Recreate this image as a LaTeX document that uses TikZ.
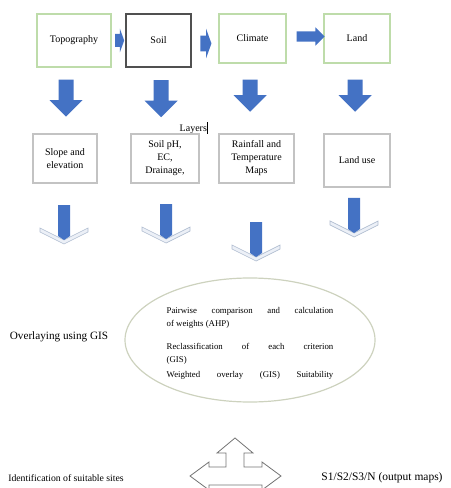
\documentclass[tikz,border=0pt]{standalone}
\usepackage{fontspec}
\setmainfont{Liberation Serif}
\usetikzlibrary{shapes.arrows,shapes.geometric,calc}

\definecolor{arrowblue}{RGB}{68,114,196}
\definecolor{boxgreen}{RGB}{190,220,170}
\definecolor{boxgray}{RGB}{195,195,195}
\definecolor{boxdark}{RGB}{80,80,80}
\definecolor{chevline}{RGB}{175,188,208}
\definecolor{chevfill}{RGB}{236,240,247}
\definecolor{ellline}{RGB}{205,210,190}

\tikzset{every picture/.style={line width=0.75pt}}
\tikzset{
	layerbox/.style={draw=boxgreen, line width=0.9pt, inner sep=1pt, align=center, font=\fontsize{7.5}{9.75}\selectfont},
	mapbox/.style={draw=boxgray, line width=0.9pt, inner sep=1pt, align=center, font=\fontsize{7.5}{9.75}\selectfont},
	blockdown/.style={single arrow, fill=arrowblue, draw=none, inner xsep=5.25pt, inner ysep=0pt, shape border rotate=270,
		minimum width=0pt, minimum height=27.75pt, single arrow head extend=6.75pt},
	blockright/.style={single arrow, fill=arrowblue, draw=none, inner xsep=0pt, minimum width=0pt, single arrow tip angle=140},
	plaintext/.style={inner sep=0.75pt, font=\fontsize{7.5}{9.75}\selectfont},
	chevarrow/.pic={
		\draw [draw=chevline, fill=chevfill, line width=0.5pt] (-24,12) -- (0,0) -- (24,12) -- (24,8) -- (0,-4) -- (-24,8) -- cycle ;
		\fill [arrowblue] (-6,35) -- (6,35) -- (6,4) -- (0,0) -- (-6,4) -- cycle ;
	}
}

\begin{document}
\begin{tikzpicture}[x=0.75pt,y=0.75pt,yscale=-1,xscale=1]
	\useasboundingbox (0,0) rectangle (450,488);
	
	%Shape: Rectangle - first row
	\node [layerbox, minimum width=55.5pt, minimum height=39.75pt] (topo) at (74,40.5) {Topography};
	\node [layerbox, draw=boxdark, line width=1.1pt, minimum width=48.75pt, minimum height=39.75pt] (soil) at (158.5,40.5) {Soil};
	\node [layerbox, minimum width=50.25pt, minimum height=36.75pt] (climate) at (252.5,38.5) {Climate};
	\node [layerbox, minimum width=49.5pt, minimum height=36.75pt] (land) at (357,38.5) {Land};
	
	%Right Arrows between the boxes
	\node [blockright, inner ysep=4.5pt, minimum height=6.75pt, single arrow head extend=4.1pt] (topo2soil) at (118.5,40.5) {};
	\node [blockright, inner ysep=5.6pt, minimum height=8.25pt, single arrow head extend=5.25pt] (soil2clim) at (204.5,43.5) {};
	\node [blockright, single arrow tip angle=90, inner ysep=3.4pt, minimum height=21pt, single arrow head extend=3pt] (clim2land) at (308,36.5) {};
	
	%Down Arrows
	\node [blockdown] (topodown) at (66,94.5) {};
	\node [blockdown] (soildown) at (161,95) {};
	\node [blockdown, minimum height=24pt] (climdown) at (250,92) {};
	\node [blockdown, minimum height=24pt] (landdown) at (355,92) {};
	
	% Text Node
	\node [plaintext] (layers) at (194,128) {Layers\rule[-1.5pt]{1pt}{8.5pt}};
	
	%Shape: Rectangle - second row
	\node [mapbox, minimum width=48pt, minimum height=36.75pt] (slope) at (65,158.5) {Slope and\\elevation};
	\node [mapbox, minimum width=51pt, minimum height=36.75pt] (soilph) at (165,158.5) {Soil pH,\\EC,\\Drainage,};
	\node [mapbox, minimum width=56.25pt, minimum height=36.75pt] (rain) at (256.5,158.5) {Rainfall and\\Temperature\\Maps};
	\node [mapbox, minimum width=49.5pt, minimum height=39.75pt] (landuse) at (357,160.5) {Land use};
	
	%Chevron Arrows
	\pic (slopedown) at (64,240) {chevarrow};
	\pic (soilphdown) at (166,239) {chevarrow};
	\pic (raindown) at (256,257) {chevarrow};
	\pic (landusedown) at (354,233) {chevarrow};
	
	%Shape: Ellipse
	\node [ellipse, draw=ellline, line width=0.9pt, minimum width=187.5pt, minimum height=93pt, inner sep=0pt] (overlay) at (250,340) {};
	% Text Node
	\node [inner sep=0pt, text width=125pt, align=justify, font=\fontsize{6.6}{9.75}\selectfont] (overlaytext) at (250,343)
		{Pairwise comparison and calculation\linebreak of weights (AHP)\par\vspace{7.5pt}
		Reclassification of each criterion\linebreak (GIS)\par\vspace{1.5pt}
		Weighted\hfill overlay\hfill (GIS)\hfill Suitability};
	
	% Text Node
	\node [plaintext, font=\fontsize{8.4}{9.75}\selectfont] (overlaying) at (59,337) {Overlaying using GIS};
	
	%Shape: Left-Right-Up Arrow
	\draw [draw=black!55, line width=0.6pt] (235,438) -- (253,453) -- (244,453) -- (244,467) -- (262,467) -- (262,462) -- (281,476) -- (262,490) -- (262,485) -- (209,485) -- (209,490) -- (190,476) -- (209,462) -- (209,467) -- (226,467) -- (226,453) -- (217,453) -- cycle ;
	
	% Text Node
	\node [plaintext, font=\fontsize{7.3}{9}\selectfont] (identify) at (66,478) {Identification of suitable sites};
	% Text Node
	\node [plaintext, font=\fontsize{8.6}{9}\selectfont] (output) at (382,478) {S1/S2/S3/N (output maps)};
	
\end{tikzpicture}
\end{document}
